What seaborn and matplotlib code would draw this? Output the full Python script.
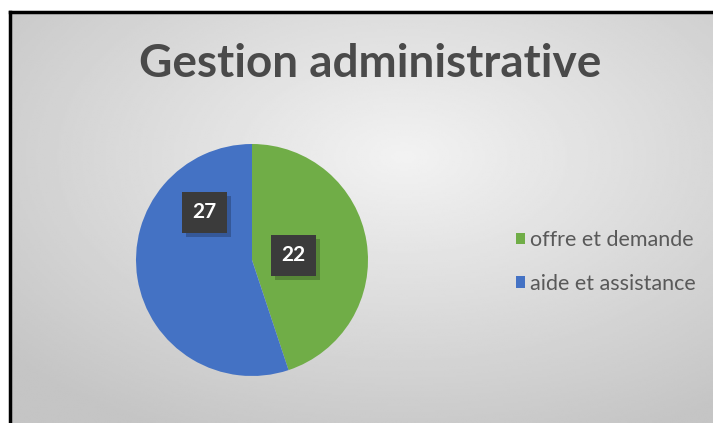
import numpy as np
import matplotlib
matplotlib.use("Agg")
import matplotlib.pyplot as plt
import matplotlib.patheffects as pe
import seaborn as sns
from matplotlib.patches import Patch

# Data
categories = ["offre et demande", "aide et assistance"]
values = [22, 27]
title = "Gestion administrative"

sns.set_theme(style="white")
plt.rcParams['font.family'] = ['Lato', 'DejaVu Sans']

colors = ["#70AD47", "#4472C4"]
# label spot for each slice, in pie data units (style only)
label_spots = [(0.36, 0.04), (-0.41, 0.41)]

W, H = 713, 423
fig = plt.figure(figsize=(W / 100, H / 100), dpi=100)
fig.patch.set_facecolor("white")

# radial gradient background inside the frame
bg = fig.add_axes([10 / W, 0, 1 - 10 / W, 1 - 12 / H])
yy, xx = np.mgrid[0:200, 0:340]
cx, cy = 190, 70
d = np.sqrt(((xx - cx) / 340) ** 2 + ((yy - cy) / 200) ** 2)
shade = 0.95 - 0.18 * np.clip(d / 0.75, 0, 1)
bg.imshow(shade, cmap="gray", vmin=0, vmax=1, aspect="auto", interpolation="bilinear")
bg.set_xticks([])
bg.set_yticks([])
for s in ["top", "left"]:
    bg.spines[s].set_visible(True)
    bg.spines[s].set_color("black")
    bg.spines[s].set_linewidth(2.5)
for s in ["bottom", "right"]:
    bg.spines[s].set_visible(False)

fig.text(370 / W, 1 - 64 / H, title, ha="center", va="center",
         fontsize=33, fontweight="bold", color="#4a4a4a")

# pie
r = 116
cxp, cyp = 252, 260
ax = fig.add_axes([(cxp - r) / W, (H - cyp - r) / H, 2 * r / W, 2 * r / H])
ax.set_facecolor("none")
wedges, _ = ax.pie(values, colors=colors, startangle=90, counterclock=False,
                   radius=1.0, wedgeprops=dict(linewidth=0))
ax.set_xlim(-1, 1)
ax.set_ylim(-1, 1)

for val, (lx, ly) in zip(values, label_spots):
    t = ax.text(lx, ly, str(val), ha="center", va="center", fontsize=15,
                fontweight="bold", color="white",
                bbox=dict(boxstyle="square,pad=0.5", facecolor="#3b3b3b", edgecolor="none"))
    t.get_bbox_patch().set_path_effects(
        [pe.withSimplePatchShadow(offset=(3, -3), shadow_rgbFace="black", alpha=0.22)])

handles = [Patch(facecolor=c, edgecolor="none") for c in colors]
leg = fig.legend(handles, categories, loc="center left", bbox_to_anchor=(505 / W, 1 - 262 / H),
                 frameon=False, fontsize=15.5, labelspacing=1.1, handlelength=0.45,
                 handleheight=0.45, handletextpad=0.2, borderpad=0)
for t in leg.get_texts():
    t.set_color("#595959")

fig.savefig("out.png", dpi=100)
